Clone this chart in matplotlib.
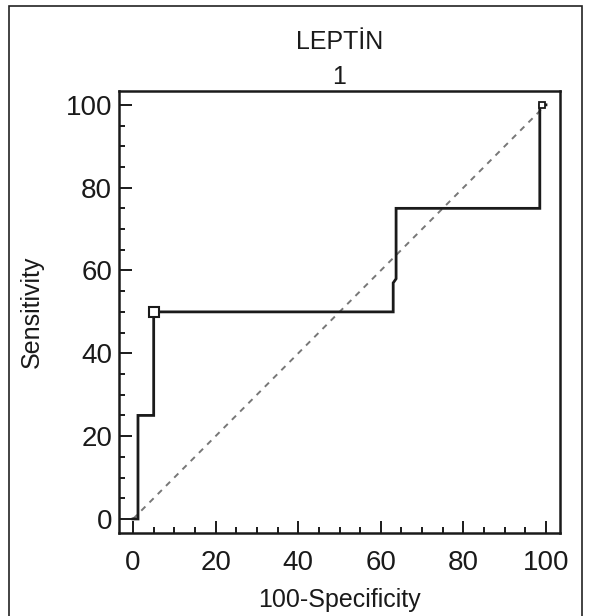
import matplotlib
matplotlib.use("Agg")
import matplotlib.pyplot as plt
from matplotlib.patches import Rectangle
from matplotlib.ticker import MultipleLocator

plt.rcParams['font.family'] = ['Liberation Sans', 'DejaVu Sans']

## ROC curve values
fpr = [0, 1.2, 1.2, 5, 5, 63, 63, 63.7, 63.7, 98.5, 98.5, 100]
sens = [0, 0, 25, 25, 50, 50, 57, 58, 75, 75, 100, 100]
## highlighted points
mark_x = [5, 99]
mark_y = [50, 100]
ticks = [0, 20, 40, 60, 80, 100]

fig = plt.figure(figsize=(5.92, 6.16), dpi=100)
ax = fig.add_axes([0.201, 0.1347, 0.745, 0.718])

## outer frame
fig.patches.append(Rectangle((9 / 592, -0.05), 573 / 592, 1 - 6 / 616 + 0.05,
                             transform=fig.transFigure, fill=False,
                             edgecolor="#222222", linewidth=1.2))

ax.plot([0, 100], [0, 100], color="#777777", linestyle=(0, (3, 3)), linewidth=1.4)
ax.plot(fpr, sens, color="#1a1a1a", linewidth=2.0, solid_joinstyle="miter")
ax.plot(mark_x[:1], mark_y[:1], marker="s", markersize=7, markerfacecolor="white",
        markeredgecolor="#1a1a1a", markeredgewidth=1.5, linestyle="none")
ax.plot(mark_x[1:], mark_y[1:], marker="s", markersize=4, markerfacecolor="white",
        markeredgecolor="#1a1a1a", markeredgewidth=1.3, linestyle="none")

ax.set_xlim(-3.4, 103.4)
ax.set_ylim(-3.4, 103.4)
ax.set_xticks(ticks)
ax.set_yticks(ticks)
ax.xaxis.set_minor_locator(MultipleLocator(5))
ax.yaxis.set_minor_locator(MultipleLocator(5))
ax.tick_params(which="both", direction="in", top=False, right=False,
               color="#1a1a1a", width=1.4, labelsize=20, labelcolor="#1a1a1a")
ax.tick_params(which="major", length=9)
ax.tick_params(which="minor", length=4.5)
ax.tick_params(axis="y", pad=5)
ax.tick_params(axis="x", pad=12)
for s in ax.spines.values():
    s.set_linewidth(1.8)
    s.set_color("#1a1a1a")

ax.set_xlabel("100-Specificity", fontsize=18, color="#1a1a1a", labelpad=9)
ax.set_ylabel("Sensitivity", fontsize=18, color="#1a1a1a", labelpad=16)
ax.set_title("LEPTİN\n1", fontsize=18, color="#1a1a1a", pad=5, linespacing=1.55)

fig.savefig("out.png", dpi=100)
